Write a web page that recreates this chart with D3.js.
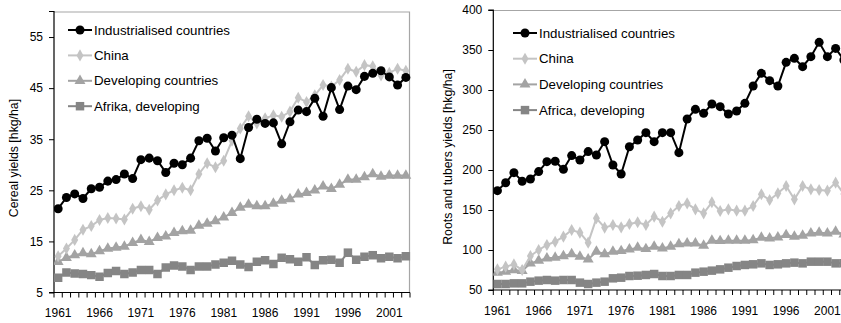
<!DOCTYPE html>
<html>
<head>
<meta charset="utf-8">
<script src="https://cdn.jsdelivr.net/npm/d3@7/dist/d3.min.js"></script>
<style>
  html, body { margin: 0; padding: 0; background: #fff; }
  svg { display: block; font-family: "Liberation Sans", Arial, sans-serif; }
</style>
</head>
<body>
<svg id="chart" width="841" height="323"></svg>
<script>
// Years 1961–2003
const years = d3.range(1961, 2004);
const yearTicks = [1961, 1966, 1971, 1976, 1981, 1986, 1991, 1996, 2001];

// Cereal yields [hkg/ha]
const cerealIndustrialised = [21.4,23.6,24.3,23.4,25.3,25.6,26.8,27.1,28.2,27.3,31.0,31.3,30.8,28.5,30.3,30.0,31.3,34.7,35.2,32.7,35.3,35.8,31.2,37.3,38.9,38.1,38.2,34.1,38.4,40.7,40.4,43.0,39.5,45.1,40.8,45.4,44.7,47.3,47.9,48.4,47.2,45.6,47.1];
const cerealChina = [12.1,13.6,15.3,17.3,18.0,19.2,19.6,19.5,19.3,21.4,21.9,21.2,23.0,24.2,25.0,25.5,25.0,28.2,30.3,29.5,30.8,34.7,37.1,39.5,38.1,39.1,39.7,39.4,40.4,43.1,42.3,43.6,45.6,45.3,46.6,48.8,48.2,49.5,49.3,47.5,48.0,48.8,48.4];
const cerealDeveloping = [11.0,11.8,12.3,12.7,12.5,13.1,13.6,13.8,14.0,14.7,15.3,14.9,15.7,16.0,16.7,17.0,17.1,18.1,18.5,19.0,19.7,20.6,21.6,22.2,21.9,21.9,22.4,23.0,23.3,24.2,24.5,25.0,25.8,25.3,26.1,27.1,27.1,27.6,28.2,27.7,27.9,27.9,27.9];
const cerealAfrica = [7.9,8.9,8.7,8.6,8.4,8.1,8.8,9.2,8.6,8.9,9.4,9.4,8.6,9.9,10.3,10.1,9.4,10.1,10.1,10.5,10.8,11.2,10.5,10.0,11.0,11.3,10.6,11.8,11.5,11.0,11.9,10.4,11.3,11.4,10.8,12.8,11.4,12.0,12.3,11.7,12.0,11.7,12.1];

// Roots and tubers yields [hkg/ha]
const rootsIndustrialised = [174.2,184,196.7,186,188.7,198,210.4,211,200.8,218,212.5,223,218.8,235.4,206.3,195,229,237.5,246.7,235.4,246.7,246.7,221.7,263.8,275.8,270.8,282.5,279.2,270,273.8,283.3,305,320.8,311.7,305,334.6,339.6,329.2,341.7,359.6,341.7,352,337.5];
const rootsChina = [75.8,79.2,82,75,92.5,100,106.3,110.4,116.7,125,121.7,109.2,139.6,128,131.3,128.3,132.5,134.6,131.3,141.7,135.4,145.8,155,158.3,150.8,145.8,159.6,148.8,150.8,149.2,149.2,155,169.6,162.5,170.8,180,163.3,180,175.8,175,174.2,184.2,170];
const rootsDeveloping = [71.7,72.9,75,73.8,83.3,86.7,89.6,90.4,92.5,95,91.7,88.3,97.9,95,97.9,98.8,100.8,102.9,101.3,104.2,102.1,104.2,107.5,108.3,108.3,105.4,111.7,111.3,111.7,111.7,111.7,112.5,115.4,114.6,115.8,118.8,116.7,117.9,120.8,121.7,120.8,122.9,119.6];
const rootsAfrica = [57.5,57.5,58.3,58.3,60.4,61.7,62.5,61.7,62.5,62.5,59.2,57.5,59.2,60.4,64.6,65.4,67.5,67.9,68.8,70,67.5,67.5,68.8,68.8,71.7,72.9,74.2,75.8,77.9,80,81.3,82.1,83.3,81.3,82.1,83.3,84.2,83.3,85.4,85.4,85.4,83.3,83.3];

// Axis ticks
const cerealTicks = [5, 15, 25, 35, 45, 55];
const rootsTicks = [50, 100, 150, 200, 250, 300, 350, 400];

const styles = {
  industrialised: { color: "#000000", symbol: d3.symbolCircle, size: 64 },
  china:          { color: "#c4c4c4", symbol: d3.symbolDiamond, size: 42 },
  developing:     { color: "#a3a3a3", symbol: d3.symbolTriangle, size: 52 },
  africa:         { color: "#858585", symbol: d3.symbolSquare, size: 72 }
};

const FONT = "Liberation Sans, Arial, sans-serif";
const svg = d3.select("#chart");

function drawPanel(opt) {
  const g = svg.append("g");
  const x = d3.scaleBand().domain(years).range([opt.left, opt.right]).padding(0);
  const y = d3.scaleLinear().domain(opt.domain).range([opt.bottom, opt.top]);
  const cx = d => x(d) + x.bandwidth() / 2;

  // plot-area border (top and right)
  g.append("path")
    .attr("d", `M${opt.left},${opt.top + 0.5}H${opt.right - 0.5}V${opt.bottom}`)
    .attr("fill", "none").attr("stroke", "#a6a6a6").attr("stroke-width", 1.2);

  // y axis
  const yAxis = d3.axisLeft(y).tickValues(opt.ticks).tickSize(5).tickPadding(6).tickFormat(d3.format("d"));
  const ya = g.append("g").attr("transform", `translate(${opt.left},0)`).call(yAxis);
  ya.select(".domain").attr("stroke", "#000").attr("stroke-width", 1.2).attr("d", `M-5,${opt.bottom}H0V${opt.top}H-5`);
  ya.selectAll(".tick line").attr("stroke", "#000");
  ya.selectAll(".tick text").attr("font-size", 12).attr("fill", "#000").style("font-family", FONT);

  // x axis: tick marks on category boundaries, labels every five years
  const bounds = years.map(d => x(d)).concat([opt.right]);
  g.append("line").attr("x1", opt.left).attr("x2", opt.right).attr("y1", opt.bottom).attr("y2", opt.bottom)
    .attr("stroke", "#000").attr("stroke-width", 1.2);
  g.selectAll(".xtick").data(bounds).join("line")
    .attr("x1", d => d).attr("x2", d => d).attr("y1", opt.bottom).attr("y2", opt.bottom + 5)
    .attr("stroke", "#000").attr("stroke-width", 1);
  const xAxis = d3.axisBottom(x).tickValues(yearTicks).tickSize(0).tickPadding(16);
  const xa = g.append("g").attr("transform", `translate(0,${opt.bottom})`).call(xAxis);
  xa.select(".domain").remove();
  xa.selectAll(".tick text").attr("font-size", 12).attr("fill", "#000").style("font-family", FONT);

  // axis title
  g.append("text")
    .attr("transform", `translate(${opt.titleX},${opt.titleY}) rotate(-90)`)
    .attr("text-anchor", "middle").attr("font-size", 12.3).attr("fill", "#000")
    .text(opt.title);

  // series (drawn back to front)
  const clip = "clip-" + opt.id;
  svg.append("clipPath").attr("id", clip).append("rect")
    .attr("x", opt.left).attr("y", 0).attr("width", opt.right - opt.left + 6).attr("height", opt.bottom + 6);
  const plot = g.append("g").attr("clip-path", `url(#${clip})`);
  const line = d3.line().x((d, i) => cx(years[i])).y(d => y(d));
  opt.series.slice().reverse().forEach(s => {
    const st = styles[s.key];
    plot.append("path").datum(s.values).attr("d", line)
      .attr("fill", "none").attr("stroke", st.color).attr("stroke-width", 2);
    plot.selectAll(null).data(s.values).join("path")
      .attr("transform", (d, i) => `translate(${cx(years[i])},${y(d)})`)
      .attr("d", d3.symbol().type(st.symbol).size(st.size))
      .attr("fill", st.color);
  });

  // legend
  opt.series.forEach((s, i) => {
    const st = styles[s.key];
    const ly = opt.legendY + i * opt.legendStep;
    g.append("line").attr("x1", opt.legendX).attr("x2", opt.legendX + 24).attr("y1", ly).attr("y2", ly)
      .attr("stroke", st.color).attr("stroke-width", 2);
    g.append("path").attr("transform", `translate(${opt.legendX + 12},${ly})`)
      .attr("d", d3.symbol().type(st.symbol).size(st.size)).attr("fill", st.color);
    g.append("text").attr("x", opt.legendX + 26).attr("y", ly).attr("dy", "0.35em")
      .attr("font-size", 13.3).attr("fill", "#000").text(s.name);
  });
}

drawPanel({
  id: "cereal", left: 54, right: 410, top: 11.5, bottom: 292.5, domain: [5, 60], ticks: cerealTicks,
  title: "Cereal yields [hkg/ha]", titleX: 17.5, titleY: 158,
  legendX: 68, legendY: 30, legendStep: 25.4,
  series: [
    { key: "industrialised", name: "Industrialised countries", values: cerealIndustrialised },
    { key: "china", name: "China", values: cerealChina },
    { key: "developing", name: "Developing countries", values: cerealDeveloping },
    { key: "africa", name: "Afrika, developing", values: cerealAfrica }
  ]
});

drawPanel({
  id: "roots", left: 493.3, right: 848, top: 10, bottom: 290, domain: [50, 400], ticks: rootsTicks,
  title: "Roots and tubers yields [hkg/ha]", titleX: 451.5, titleY: 157,
  legendX: 513, legendY: 33, legendStep: 25.7,
  series: [
    { key: "industrialised", name: "Industrialised countries", values: rootsIndustrialised },
    { key: "china", name: "China", values: rootsChina },
    { key: "developing", name: "Developing countries", values: rootsDeveloping },
    { key: "africa", name: "Africa, developing", values: rootsAfrica }
  ]
});
</script>
</body>
</html>
